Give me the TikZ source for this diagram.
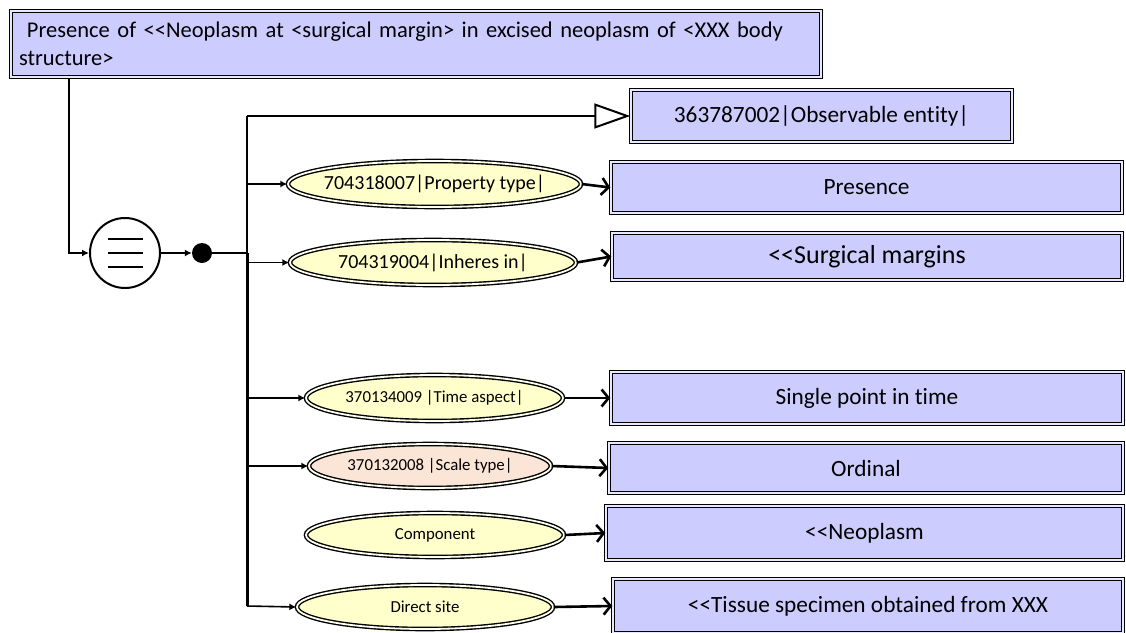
\documentclass[tikz,border=0pt]{standalone}
\usepackage{fontspec}
\setmainfont{Carlito}[Ligatures={TeXOff,CommonOff}]
\usetikzlibrary{arrows.meta,shapes.geometric,calc}
\definecolor{lav}{HTML}{CCCCFF}
\definecolor{lavgap}{HTML}{E8E8FF}
\definecolor{ylw}{HTML}{FFFFCC}
\definecolor{ylwgap}{HTML}{FFFFF0}
\definecolor{peach}{HTML}{FBE5D6}

\begin{document}
\begin{tikzpicture}[x=1pt,y=-1pt,
  concept/.style={rectangle, draw, line width=1.5pt, double=lavgap, double distance=1.8pt,
    fill=lav, inner sep=0pt, font=\fontsize{23.3}{27}\selectfont},
  attr/.style={ellipse, draw, line width=1.4pt, double=ylwgap, double distance=1.8pt,
    fill=ylw, inner xsep=-45pt, inner ysep=0pt, font=\fontsize{16.8}{20}\selectfont},
  link/.style={line width=1.6pt, -{Latex[length=7pt,width=7pt]}},
  valarrow/.style={line width=2.6pt, -{Straight Barb[length=7pt,width=17pt]}}
]
\useasboundingbox (0,0) rectangle (1126,632);
\clip (0,0) rectangle (1126,632);

% defining concept
\node[concept, minimum width=810, minimum height=66, text width=794, align=left,
      font=\fontsize{22.5}{28}\selectfont] (top) at (416,44)
  {\hspace*{8pt}Presence of <<Neoplasm at <surgical margin> in excised neoplasm of <XXX body\\structure>};

% definition status and grouping
\node[circle, draw, line width=2pt, fill=white, minimum size=70, inner sep=0] (eq) at (125,253) {};
\foreach \dy in {-14,0,14}
  \draw[line width=2.8pt] ($(eq.center)+(-17,\dy)$) -- ($(eq.center)+(18,\dy)$);
\node[circle, fill=black, minimum size=20, inner sep=0] (grp) at (202,253) {};

% supertype
\node[concept, minimum width=381, minimum height=52] (obs) at (821.5,116) {363787002|Observable entity|};

% attributes
\node[attr, minimum width=293, minimum height=46, font=\fontsize{20}{24}\selectfont] (pt) at (434.5,184) {704318007|Property type|};
\node[attr, minimum width=286, minimum height=45, font=\fontsize{20}{24}\selectfont] (ih) at (433,262.5) {704319004|Inheres in|};
\node[attr, minimum width=257, minimum height=46] (ta) at (434.5,398) {370134009 |Time aspect|};
\node[attr, fill=peach, minimum width=242, minimum height=44] (st) at (430,466) {370132008 |Scale type|};
\node[attr, minimum width=258, minimum height=44] (co) at (435,535) {Component};
\node[attr, minimum width=256, minimum height=44] (ds) at (425,607) {Direct site};

% values
\node[concept, minimum width=511, minimum height=51] (pres) at (866.5,187.5) {Presence};
\node[concept, minimum width=510, minimum height=47, font=\fontsize{26}{30}\selectfont] (sm) at (867,256.5) {<<Surgical margins};
\node[concept, minimum width=512, minimum height=52] (sp) at (867,398) {Single point in time};
\node[concept, minimum width=514, minimum height=50] (ord) at (866,468) {Ordinal};
\node[concept, minimum width=517, minimum height=54] (neo) at (864.5,533) {<<Neoplasm};
\node[concept, minimum width=510, minimum height=54] (tis) at (868,606) {<<Tissue specimen obtained from XXX};

% trunk
\coordinate (tTop) at (247,116);
\coordinate (tMid) at (247,253);
\coordinate (tBot) at (247,606);
\coordinate (drop) at (69,78);

\draw[link] (drop) |- (eq.west);
\draw[link] (eq.east) -- (grp.west);
\draw[line width=2.8pt] (grp.center) -- (tMid);
\draw[line width=2pt] (tTop) -- (tMid);
\draw[line width=3pt] (tMid) -- (tBot);

\draw[line width=2pt, -{Triangle[open, length=36pt, width=25pt, line width=2pt]}] (tTop) -- (obs.west);

\draw[link] (tTop |- pt.west) -- (pt.west);
\draw[link] (tTop |- ih.west) -- (ih.west);
\draw[link] (tTop |- ta.west) -- (ta.west);
\draw[link] (tTop |- st.west) -- (st.west);
\draw[link] (tBot) -- (ds.west);

\draw[valarrow] (pt.east) -- (pres.west);
\draw[valarrow] (ih.east) -- (sm.west);
\draw[valarrow] (ta.east) -- (sp.west);
\draw[valarrow] (st.east) -- (ord.west);
\draw[valarrow] (co.east) -- (neo.west);
\draw[valarrow] (ds.east) -- (tis.west);
\end{tikzpicture}
\end{document}
